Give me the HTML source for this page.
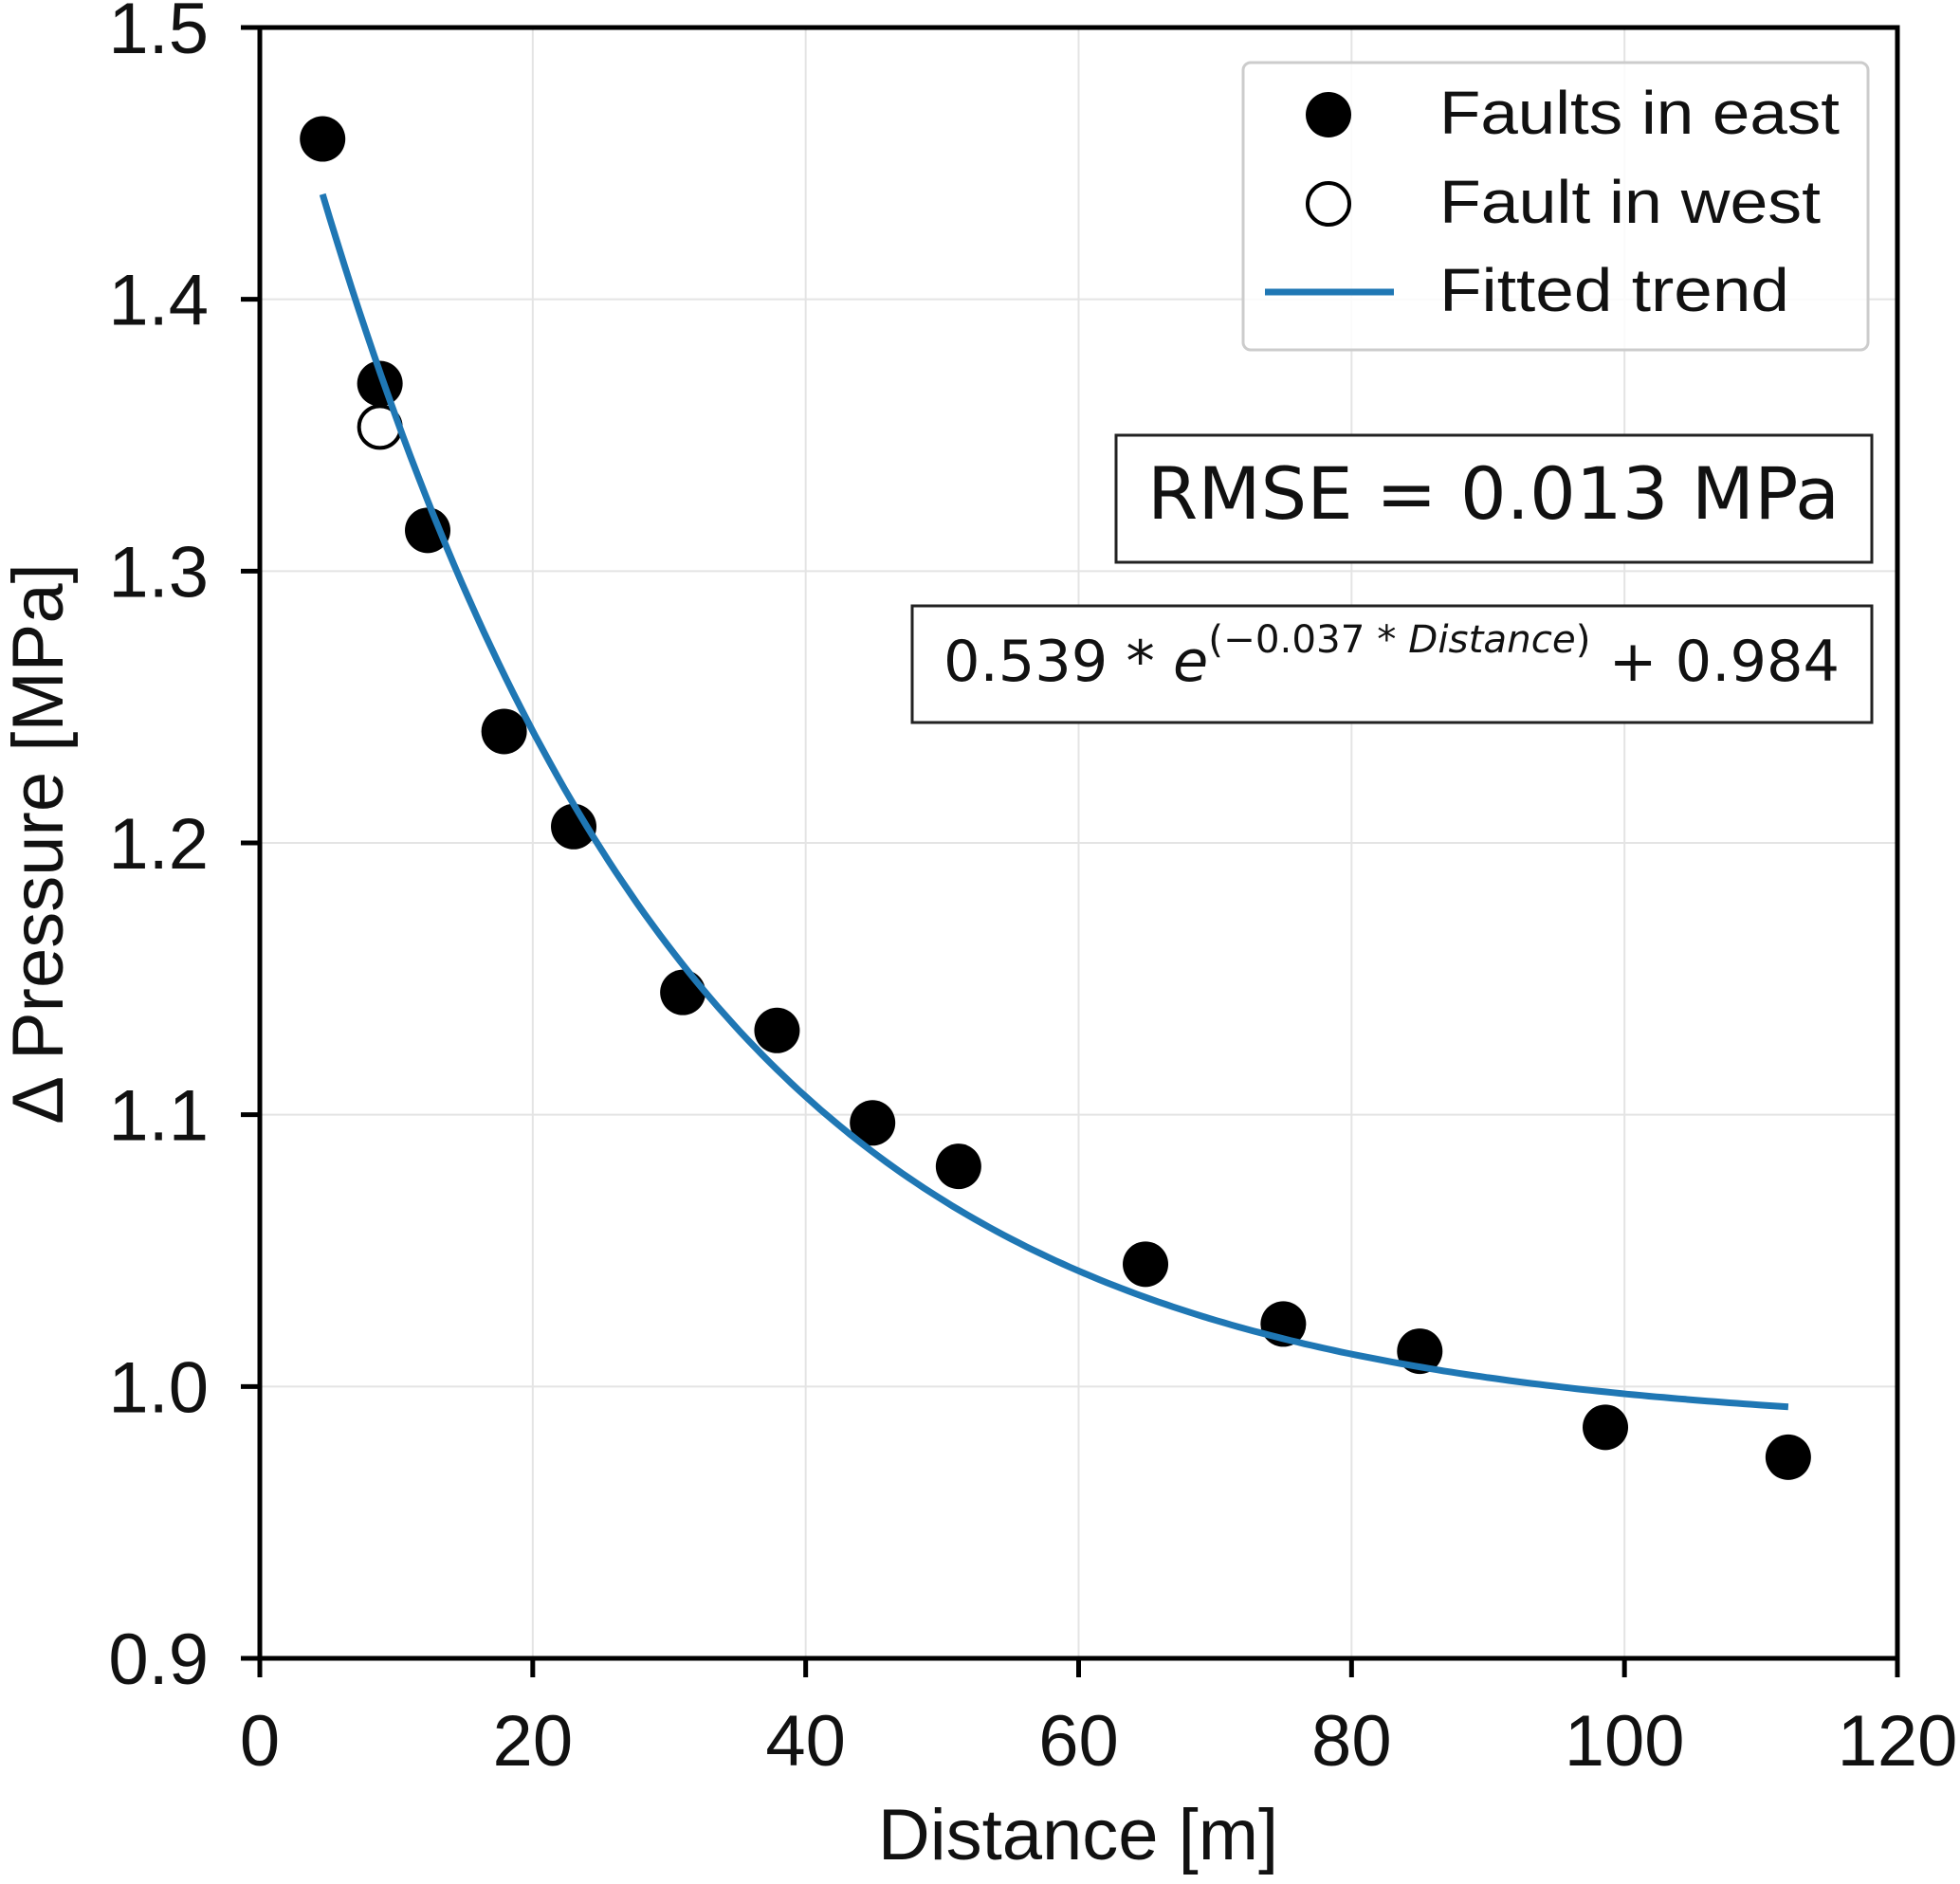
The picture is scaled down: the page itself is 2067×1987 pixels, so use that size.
<!DOCTYPE html>
<html><head><meta charset="utf-8"><style>
html,body{margin:0;padding:0;background:#fff;}
svg{display:block;font-family:"Liberation Sans",Arial,sans-serif;}
</style></head><body>
<svg id="chart" width="2067" height="1987" viewBox="0 0 2067 1987" xmlns="http://www.w3.org/2000/svg">
<rect width="2067" height="1987" fill="#fff"/>
<g id="grid"></g>
<g id="fit"></g>
<g id="pts"></g>
<g id="axes"></g>
<g>
  <rect x="1311" y="66" width="659" height="303" rx="8" fill="#fff" fill-opacity="0.85" stroke="#ccc" stroke-width="3"/>
  <circle cx="1401" cy="121" r="24" fill="#000"/>
  <text x="1518" y="141" font-size="64" textLength="422" lengthAdjust="spacingAndGlyphs" fill="#111">Faults in east</text>
  <circle cx="1401" cy="215" r="22" fill="#fff" stroke="#000" stroke-width="4"/>
  <text x="1518" y="235" font-size="64" textLength="402" lengthAdjust="spacingAndGlyphs" fill="#111">Fault in west</text>
  <line x1="1334" y1="308" x2="1470" y2="308" stroke="#1f77b4" stroke-width="7"/>
  <text x="1518" y="328" font-size="64" textLength="369" lengthAdjust="spacingAndGlyphs" fill="#111">Fitted trend</text>
</g>
<g>
  <rect x="1177" y="459" width="797" height="134" fill="#fff" stroke="#222" stroke-width="3"/>
  <text x="1210" y="547" font-family="DejaVu Sans, sans-serif" font-size="76" textLength="730" lengthAdjust="spacingAndGlyphs" fill="#111">RMSE = 0.013 MPa</text>
</g>
<g>
  <rect x="962" y="639" width="1012" height="123" fill="#fff" stroke="#222" stroke-width="3"/>
  <text font-family="DejaVu Sans, sans-serif" fill="#111" textLength="945" lengthAdjust="spacingAndGlyphs">
    <tspan x="995" y="718" font-size="60">0.539 * </tspan><tspan font-size="60" font-style="italic">e</tspan><tspan font-size="40" dy="-30">(−0.037 * </tspan><tspan font-size="40" font-style="italic">Distance</tspan><tspan font-size="40">)</tspan><tspan font-size="60" dy="30"> + 0.984</tspan>
  </text>
</g>
<text x="1137" y="1961" font-size="76" text-anchor="middle" fill="#111">Distance [m]</text>
<text transform="translate(66,890) rotate(-90)" font-size="76" text-anchor="middle" fill="#111">Δ Pressure [MPa]</text>
</svg>
<script>
const xTicks = [0, 20, 40, 60, 80, 100, 120];
const yTicks = [0.9, 1.0, 1.1, 1.2, 1.3, 1.4, 1.5];
const eastX = [4.6, 8.8, 12.3, 17.9, 23.0, 31.0, 37.9, 44.9, 51.2, 64.9, 75.0, 85.0, 98.6, 112.0];
const eastY = [1.459, 1.369, 1.315, 1.241, 1.206, 1.145, 1.131, 1.097, 1.081, 1.045, 1.023, 1.013, 0.985, 0.974];
const westX = [8.8];
const westY = [1.353];
const fitA = [0.539];
const fitK = [0.037];
const fitC = [0.984];
const fitRange = [4.6, 112];

const NS = 'http://www.w3.org/2000/svg';
const L = 274, R = 2001, T = 29, B = 1749;
const xMin = 0, xMax = 120, yMin = 0.9, yMax = 1.5;
function sx(v){ return L + (v - xMin) / (xMax - xMin) * (R - L); }
function sy(v){ return B - (v - yMin) / (yMax - yMin) * (B - T); }
function mk(tag, attrs, parent){
  const e = document.createElementNS(NS, tag);
  for (const k in attrs) e.setAttribute(k, attrs[k]);
  parent.appendChild(e);
  return e;
}
const grid = document.getElementById('grid');
const axes = document.getElementById('axes');
const pts = document.getElementById('pts');
const fitG = document.getElementById('fit');

xTicks.forEach(t => {
  const x = sx(t);
  const g = mk('line', {x1:x, y1:T, x2:x, y2:B, stroke:'#e4e4e4', 'stroke-width':2}, grid);
  
  
  const tk = mk('line', {x1:x, y1:B, x2:x, y2:B+20, stroke:'#000', 'stroke-width':5}, axes);
  
  
  const lb = mk('text', {x:x, y:1862, 'font-size':76, 'text-anchor':'middle', fill:'#111'}, axes);
  lb.textContent = String(t);
  
  
});
yTicks.forEach(t => {
  const y = sy(t);
  const g = mk('line', {x1:L, y1:y, x2:R, y2:y, stroke:'#e4e4e4', 'stroke-width':2}, grid);
  
  
  const tk = mk('line', {x1:L-20, y1:y, x2:L, y2:y, stroke:'#000', 'stroke-width':5}, axes);
  
  
  const lb = mk('text', {x:220, y:y+27, 'font-size':76, 'text-anchor':'end', fill:'#111'}, axes);
  lb.textContent = t.toFixed(1);
  
  
});
const frame = mk('rect', {x:L, y:T, width:R-L, height:B-T, fill:'none', stroke:'#000', 'stroke-width':5}, axes);



let d = '';
const n = 200;
for (let i = 0; i <= n; i++) {
  const xv = fitRange[0] + (fitRange[1] - fitRange[0]) * i / n;
  const yv = fitA[0] * Math.exp(-fitK[0] * xv) + fitC[0];
  d += (i ? 'L' : 'M') + sx(xv).toFixed(1) + ',' + sy(yv).toFixed(1);
}
const fp = mk('path', {d:d, fill:'none', stroke:'#1f77b4', 'stroke-width':7}, fitG);



eastX.forEach((xv, i) => {
  const c = mk('circle', {cx:sx(xv), cy:sy(eastY[i]), r:24, fill:'#000'}, pts);
  
  
});
westX.forEach((xv, i) => {
  const c = mk('circle', {cx:sx(xv), cy:sy(westY[i]), r:22, fill:'#fff', stroke:'#000', 'stroke-width':4}, pts);
  
  
});
pts.parentNode.insertBefore(pts, fitG);
</script>
</body></html>
